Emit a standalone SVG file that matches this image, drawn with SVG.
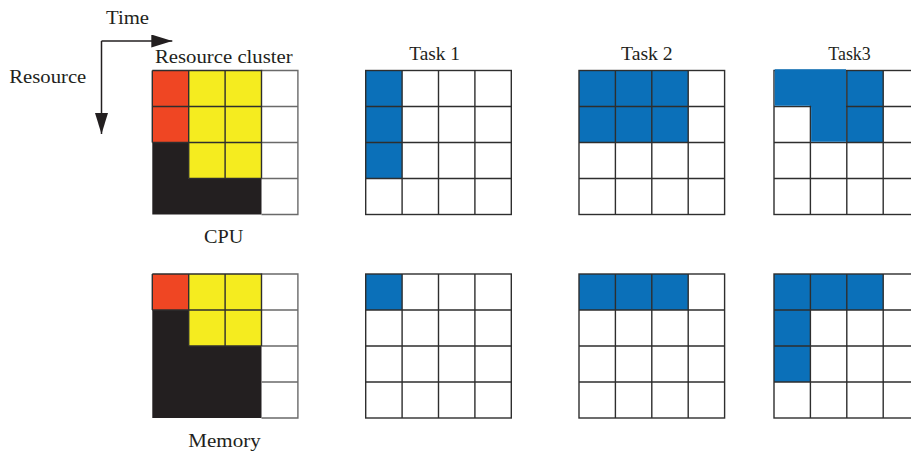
<svg xmlns="http://www.w3.org/2000/svg" xmlns:xlink="http://www.w3.org/1999/xlink" width="911" height="456" viewBox="0 0 911 456">
  <style>
    .lbl { font-family: "Liberation Serif", "Times New Roman", serif; font-size: 19px; fill: #231f20; }
    .gl { stroke: #2e2e2e; stroke-width: 1.4; fill: none; }
    .gl-soft { stroke: #6a6a6a; stroke-width: 1.4; fill: none; }
    .blue { fill: #0b70b9; }
    .red { fill: #ef4623; }
    .yel { fill: #f5ec1f; }
    .blk { fill: #231f20; }
    .axis { stroke: #231f20; stroke-width: 1.5; fill: none; }
  </style>
  <defs>
    <marker id="head" markerUnits="userSpaceOnUse" markerWidth="22" markerHeight="14" refX="21" refY="6.5" orient="auto">
      <path d="M0,0 L21,6.5 L0,13 Z" fill="#231f20"/>
    </marker>
    <!-- 4x4 grid of cells, 36.4 x 36 each -->
    <g id="grid">
      <rect class="gl" x="0" y="0" width="145.6" height="144"/>
      <path class="gl" d="M36.4,0 V144 M72.8,0 V144 M109.2,0 V144 M0,36 H145.6 M0,72 H145.6 M0,108 H145.6"/>
    </g>
  </defs>

  <rect width="911" height="456" fill="#ffffff"/>

  <!-- axes -->
  <g id="connectors">
    <line class="axis" x1="101.5" y1="41" x2="172.3" y2="41" marker-end="url(#head)"/>
    <line class="axis" x1="101.5" y1="41" x2="101.5" y2="134" marker-end="url(#head)"/>
  </g>
  <g id="axis-labels">
    <text class="lbl" x="106" y="23.5" textLength="43" lengthAdjust="spacingAndGlyphs">Time</text>
    <text class="lbl" x="9.3" y="82.7" textLength="77" lengthAdjust="spacingAndGlyphs">Resource</text>
  </g>

  <!-- resource cluster: CPU -->
  <g id="cluster-cpu" transform="translate(152.3,70.5)">
    <rect class="red" x="0" y="0" width="36.4" height="72"/>
    <rect class="yel" x="36.4" y="0" width="72.8" height="108"/>
    <path class="blk" d="M0,72 H36.4 V108 H109.2 V144 H0 Z"/>
    <path class="gl-soft" d="M109.2,0 H145.6 V144 H109.2 M109.2,36 H145.6 M109.2,72 H145.6 M109.2,108 H145.6"/>
    <path class="gl" d="M0,0 H109.2 V108 M0,0 V72 M0,36 H109.2 M36.4,0 V108 M72.8,0 V108 M0,72 H109.2 M36.4,108 H109.2"/>
  </g>
  <text class="lbl" x="155" y="63.3" textLength="137.7" lengthAdjust="spacingAndGlyphs">Resource cluster</text>
  <text class="lbl" x="204" y="243.3" textLength="39.3" lengthAdjust="spacingAndGlyphs">CPU</text>

  <!-- resource cluster: Memory -->
  <g id="cluster-mem" transform="translate(152.3,274)">
    <rect class="red" x="0" y="0" width="36.4" height="36"/>
    <rect class="yel" x="36.4" y="0" width="72.8" height="72"/>
    <path class="blk" d="M0,36 H36.4 V72 H109.2 V144 H0 Z"/>
    <path class="gl-soft" d="M109.2,0 H145.6 V144 H109.2 M109.2,36 H145.6 M109.2,72 H145.6 M109.2,108 H145.6"/>
    <path class="gl" d="M0,0 H109.2 V72 M0,0 V36 M0,36 H109.2 M36.4,0 V72 M72.8,0 V72 M36.4,72 H109.2"/>
  </g>
  <text class="lbl" x="188.3" y="446.7" textLength="72.4" lengthAdjust="spacingAndGlyphs">Memory</text>

  <!-- Task 1 -->
  <text class="lbl" x="409.3" y="60" textLength="50.7" lengthAdjust="spacingAndGlyphs">Task 1</text>
  <g id="task1-cpu" transform="translate(365.7,70.5)">
    <rect class="blue" x="0" y="0" width="36.4" height="108"/>
    <use xlink:href="#grid"/>
  </g>
  <g id="task1-mem" transform="translate(365.7,274)">
    <rect class="blue" x="0" y="0" width="36.4" height="36"/>
    <use xlink:href="#grid"/>
  </g>

  <!-- Task 2 -->
  <text class="lbl" x="621" y="60" textLength="51.7" lengthAdjust="spacingAndGlyphs">Task 2</text>
  <g id="task2-cpu" transform="translate(579,70.5)">
    <rect class="blue" x="0" y="0" width="109.2" height="72"/>
    <use xlink:href="#grid"/>
  </g>
  <g id="task2-mem" transform="translate(579,274)">
    <rect class="blue" x="0" y="0" width="109.2" height="36"/>
    <use xlink:href="#grid"/>
  </g>

  <!-- Task3 -->
  <text class="lbl" x="828.3" y="60" textLength="42.4" lengthAdjust="spacingAndGlyphs">Task3</text>
  <g id="task3-cpu" transform="translate(774,70.5)">
    <rect class="blue" x="72.8" y="0" width="36.4" height="72"/>
    <use xlink:href="#grid"/>
    <!-- merged block over the first two columns, drawn above the grid lines -->
    <path class="blue" d="M0.7,-1.2 H72 V71.3 H37.1 V35.3 H0.7 Z"/>
  </g>
  <g id="task3-mem" transform="translate(774,274)">
    <rect class="blue" x="0" y="0" width="109.2" height="36"/>
    <rect class="blue" x="0" y="36" width="36.4" height="72"/>
    <use xlink:href="#grid"/>
  </g>
</svg>
